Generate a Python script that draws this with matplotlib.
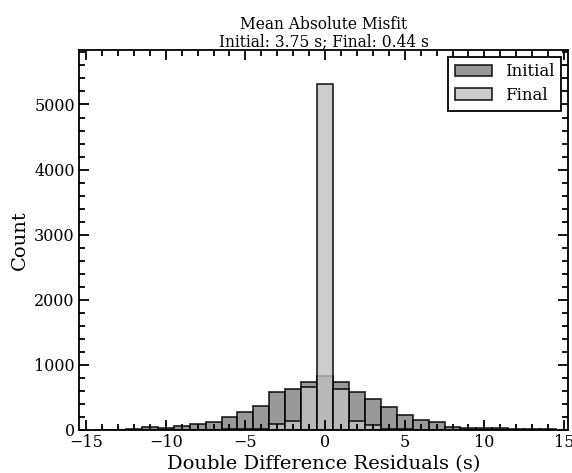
import matplotlib
matplotlib.use('Agg')
from matplotlib import pyplot as plt
from matplotlib.ticker import MultipleLocator

plt.rcParams['font.family'] = 'DejaVu Serif'

# residual bins (centres, width 1 s)
centres = list(range(-14, 15))
initial = [2, 4, 10, 40, 35, 65, 85, 118, 205, 272, 364, 590, 630, 733, 825,
	735, 590, 482, 348, 236, 154, 128, 50, 25, 27, 25, 15, 15, 10]
final = [0, 0, 0, 0, 0, 2, 3, 5, 8, 10, 15, 87, 138, 666, 5320,
	630, 138, 72, 15, 8, 5, 3, 2, 1, 0, 0, 0, 0, 0]

fig = plt.figure(figsize=(5.72, 4.73), dpi=100)
ax = fig.add_axes([0.138, 0.091, 0.855, 0.803])

ax.bar(centres, initial, width=1.0, color='gray', alpha=0.8,
	edgecolor='k', linewidth=1.3, label='Initial')
ax.bar(centres, final, width=1.0, color='silver', alpha=0.8,
	edgecolor='k', linewidth=1.3, label='Final')

ax.set_xlim(-15.45, 15.25)
ax.set_ylim(0, 5835)
ax.xaxis.set_major_locator(MultipleLocator(5))
ax.xaxis.set_minor_locator(MultipleLocator(1))
ax.yaxis.set_major_locator(MultipleLocator(1000))
ax.yaxis.set_minor_locator(MultipleLocator(200))
ax.tick_params(which='both', direction='in', top=True, right=True,
	labelsize=11.5, width=1.3)
ax.tick_params(which='major', length=7, pad=3)
ax.tick_params(which='minor', length=4)
for s in ax.spines.values():
	s.set_linewidth(1.3)

ax.set_xlabel('Double Difference Residuals (s)', fontsize=14, labelpad=3)
ax.set_ylabel('Count', fontsize=14)
ax.set_title('Mean Absolute Misfit\nInitial: 3.75 s; Final: 0.44 s',
	fontsize=11.2, pad=3, linespacing=1.0)

leg = ax.legend(loc='upper right', fontsize=12, fancybox=False,
	framealpha=1, edgecolor='k', borderaxespad=0.4, handlelength=2.2,
	labelspacing=0.4)
leg.get_frame().set_linewidth(1.3)

fig.savefig('out.png', dpi=100)
